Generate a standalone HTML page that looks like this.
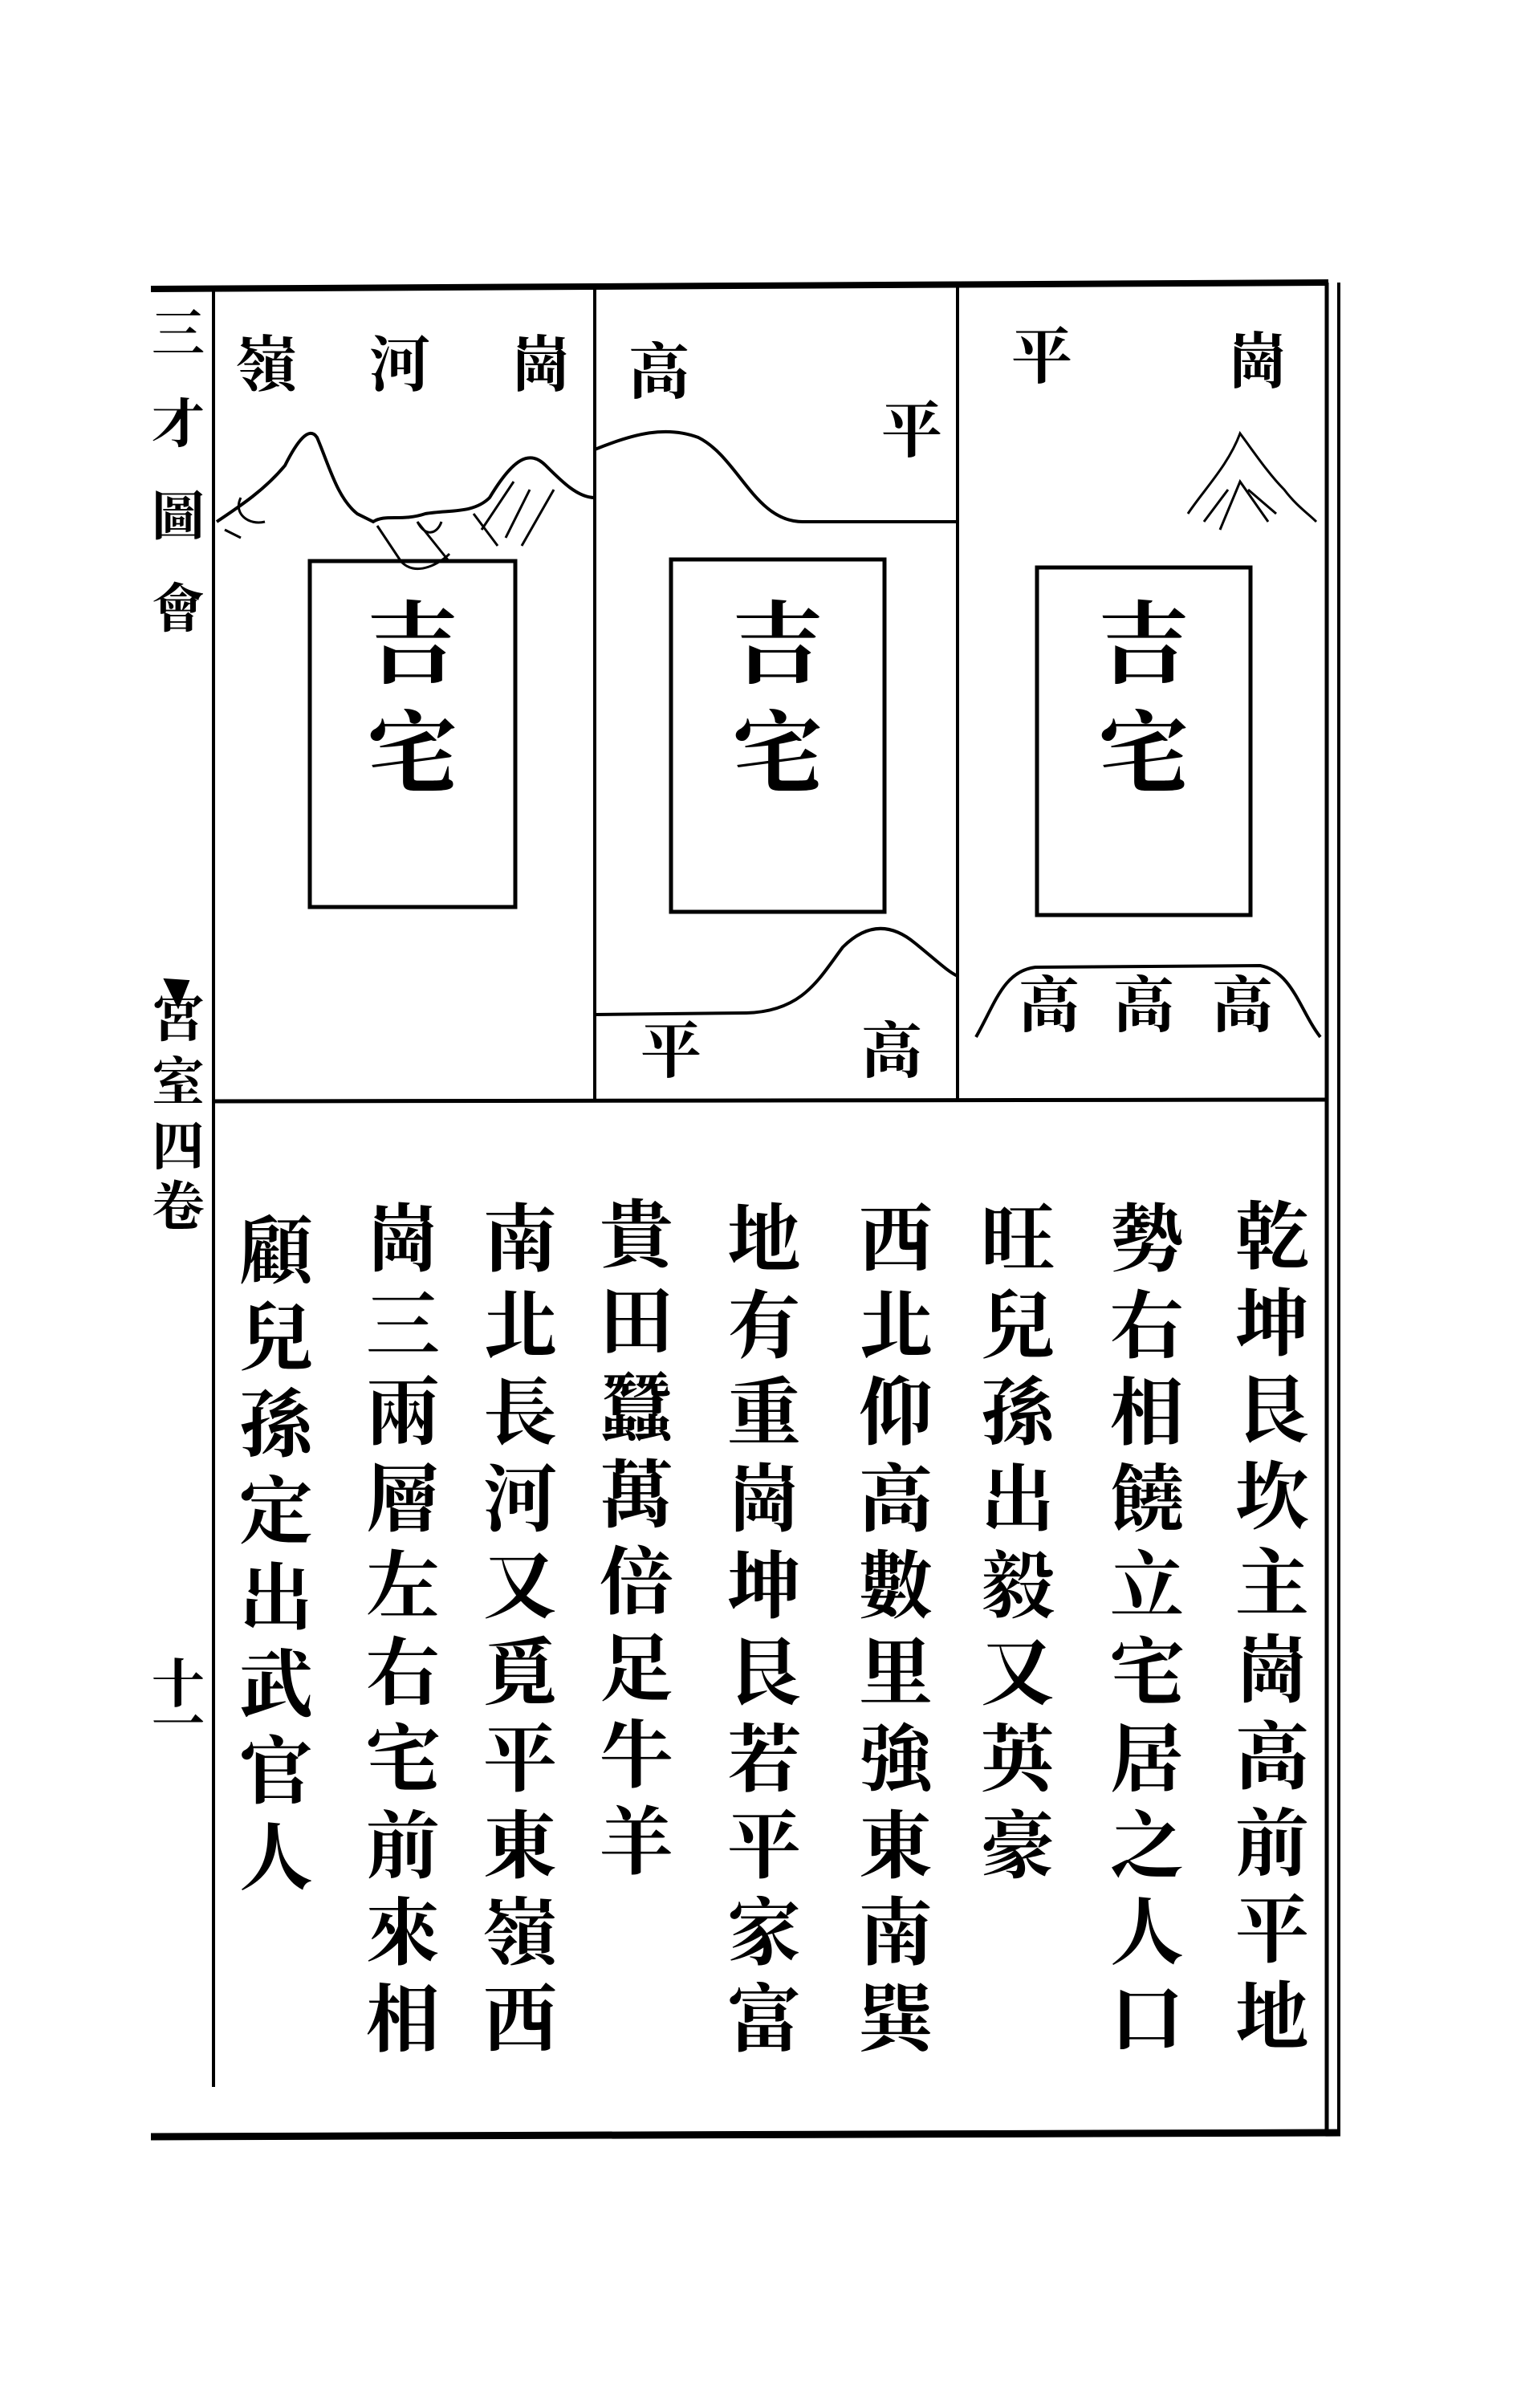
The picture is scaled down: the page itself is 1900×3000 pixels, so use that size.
<!DOCTYPE html>
<html><head><meta charset="utf-8"><style>
html,body{margin:0;padding:0;background:#fff;}
body{width:1900px;height:3000px;position:relative;overflow:hidden;font-family:"Liberation Serif","Noto Serif CJK TC","Noto Sans CJK TC",serif;color:#000;}
.c{position:absolute;writing-mode:vertical-rl;font-size:92px;line-height:1;letter-spacing:16px;font-weight:bold;}
.l{position:absolute;font-size:76px;line-height:1;font-weight:bold;transform:translate(-50%,-50%);}
.b{position:absolute;font-size:112px;line-height:1;transform:translate(-50%,-50%);font-family:"Noto Serif CJK SC",serif;font-weight:bold;}
.m{position:absolute;font-size:66px;line-height:1;transform:translate(-50%,-50%);font-weight:bold;}
</style></head><body>
<svg width="1900" height="3000" style="position:absolute;left:0;top:0">
<g stroke="#000" fill="none" stroke-width="5">
<line x1="188" y1="360" x2="1655" y2="352" stroke-width="8"/>
<line x1="266" y1="362" x2="266" y2="2600" stroke-width="4"/>
<line x1="741" y1="358" x2="741" y2="1372" stroke-width="4"/>
<line x1="1193" y1="356" x2="1193" y2="1372" stroke-width="4"/>
<line x1="1653" y1="352" x2="1653" y2="2660" stroke-width="5"/>
<line x1="1668" y1="352" x2="1668" y2="2660" stroke-width="4"/>
<line x1="266" y1="1372" x2="1653" y2="1370" stroke-width="5"/>
<line x1="188" y1="2662" x2="1670" y2="2657" stroke-width="9"/>
<rect x="386" y="699" width="256" height="431" stroke-width="5"/>
<rect x="836" y="697" width="266" height="439" stroke-width="5"/>
<rect x="1292" y="707" width="266" height="433" stroke-width="5"/>
<path d="M741 560 C790 540 830 530 870 545 C920 570 940 650 1000 650 L1193 650" stroke-width="4"/>
<path d="M741 1264 L930 1262 C1000 1260 1020 1220 1050 1180 C1080 1150 1110 1150 1140 1175 C1165 1195 1180 1210 1193 1216" stroke-width="4"/>
<path d="M1216 1292 C1240 1250 1250 1210 1290 1205 L1570 1203 C1610 1210 1620 1260 1645 1292" stroke-width="4"/>
<path d="M270 650 C300 630 330 610 355 580 C370 550 385 530 395 545 C410 580 420 620 445 640 L465 650 C480 640 500 650 530 640 C560 635 590 640 610 620 C640 570 660 560 680 580 C700 600 720 620 741 620" stroke-width="4"/>
<path d="M470 655 L500 700 C520 720 550 700 560 690 M520 650 L560 700 M590 640 L620 680 M640 600 L600 660 M660 610 L630 670 M690 610 L650 680 M300 620 C290 640 310 655 330 650 M280 660 L300 670 M520 650 C530 670 545 665 550 650" stroke-width="3"/>
<path d="M1480 640 C1500 610 1530 580 1545 540 C1560 560 1580 590 1600 610 C1615 630 1630 640 1640 650 M1520 660 L1545 600 L1580 650 M1555 610 L1590 640 M1500 650 L1530 610" stroke-width="3"/>
<path d="M205 1220 L235 1222 L222 1255 Z" fill="#000" stroke-width="2"/>
</g>
</svg>
<div class="l" style="left:332px;top:456px">嶺</div>
<div class="l" style="left:498px;top:456px">河</div>
<div class="l" style="left:674px;top:456px">崗</div>
<div class="l" style="left:821px;top:465px">高</div>
<div class="l" style="left:1136px;top:538px">平</div>
<div class="l" style="left:836px;top:1311px">平</div>
<div class="l" style="left:1111px;top:1311px">高</div>
<div class="l" style="left:1298px;top:446px">平</div>
<div class="l" style="left:1567px;top:452px">崗</div>
<div class="l" style="left:1307px;top:1254px">高</div>
<div class="l" style="left:1425px;top:1254px">高</div>
<div class="l" style="left:1548px;top:1254px">高</div>
<div class="b" style="left:514px;top:795px">吉</div>
<div class="b" style="left:514px;top:931px">宅</div>
<div class="b" style="left:969px;top:795px">吉</div>
<div class="b" style="left:969px;top:931px">宅</div>
<div class="b" style="left:1425px;top:795px">吉</div>
<div class="b" style="left:1425px;top:931px">宅</div>
<div class="m" style="left:222px;top:418px">三</div>
<div class="m" style="left:222px;top:530px">才</div>
<div class="m" style="left:222px;top:645px">圖</div>
<div class="m" style="left:222px;top:760px">會</div>
<div class="m" style="left:222px;top:1270px">宮</div>
<div class="m" style="left:222px;top:1350px">室</div>
<div class="m" style="left:222px;top:1430px">四</div>
<div class="m" style="left:222px;top:1505px">卷</div>
<div class="m" style="left:222px;top:2100px">十</div>
<div class="m" style="left:222px;top:2150px">一</div>
<div class="c" style="left:1531px;top:1492px">乾坤艮坎主崗高前平地</div>
<div class="c" style="left:1375px;top:1495px">勢右相饒立宅居之人口</div>
<div class="c" style="left:1214px;top:1495px">旺兒孫出毅又英豪</div>
<div class="c" style="left:1062px;top:1495px">西北仰高數里強東南巽</div>
<div class="c" style="left:898px;top:1495px">地有重崗坤艮若平家富</div>
<div class="c" style="left:739px;top:1490px">貴田蠶萬倍足牛羊</div>
<div class="c" style="left:594px;top:1495px">南北長河又覓平東嶺西</div>
<div class="c" style="left:448px;top:1495px">崗三兩層左右宅前來相</div>
<div class="c" style="left:290px;top:1510px">顧兒孫定出武官人</div>
</body></html>
